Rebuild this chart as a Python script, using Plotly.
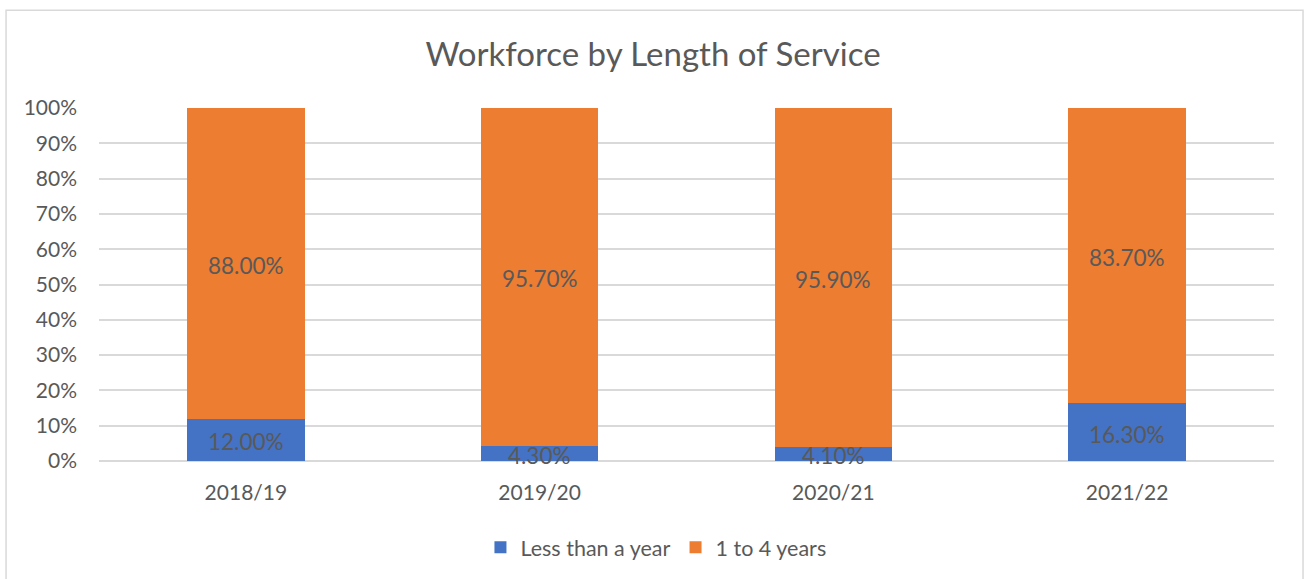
import plotly.graph_objects as go

# Workforce share by length of service, per financial year
years = ["2018/19", "2019/20", "2020/21", "2021/22"]
less_than_year = [12.00, 4.30, 4.10, 16.30]
one_to_four = [88.00, 95.70, 95.90, 83.70]
y_ticks = list(range(0, 101, 10))

BLUE = "#4472C4"
ORANGE = "#ED7D31"
TEXT = "#595959"
GRID = "#D9D9D9"
FONT = "Lato, Calibri, sans-serif"

fig = go.Figure()
fig.add_trace(go.Bar(name="Less than a year", x=years, y=less_than_year,
                     marker=dict(color=BLUE, line=dict(width=0)), hoverinfo="skip"))
fig.add_trace(go.Bar(name="1 to 4 years", x=years, y=one_to_four,
                     marker=dict(color=ORANGE, line=dict(width=0)), hoverinfo="skip"))

# value labels centred in each stacked segment
label_font = dict(size=22.5, color=TEXT, family=FONT)
annotations = []
for yr, a, b in zip(years, less_than_year, one_to_four):
    annotations.append(dict(x=yr, y=a / 2, text=f"{a:.2f}%", showarrow=False,
                            xref="x", yref="y", yshift=-2, font=label_font))
    annotations.append(dict(x=yr, y=a + b / 2, text=f"{b:.2f}%", showarrow=False,
                            xref="x", yref="y", yshift=-2, font=label_font))

fig.update_layout(
    barmode="stack",
    bargap=0.6,
    width=1306, height=579,
    margin=dict(l=99, r=32, t=108, b=117),
    paper_bgcolor="white", plot_bgcolor="white",
    font=dict(family=FONT, color=TEXT, size=21),
    title=dict(text="Workforce by Length of Service", x=0.5, xanchor="center",
               y=1 - 54 / 579, yanchor="middle",
               font=dict(size=33, color=TEXT, family=FONT)),
    legend=dict(orientation="h", x=0.474, xanchor="center", y=-0.241, yanchor="middle",
                font=dict(size=21.5, color=TEXT, family=FONT), traceorder="normal",
                itemwidth=30),
    annotations=annotations,
    shapes=[dict(type="rect", xref="paper", yref="paper",
                 x0=-0.0791, x1=1.0247, y0=-0.36, y1=1.2768,
                 line=dict(color=GRID, width=1.5), fillcolor="rgba(0,0,0,0)", layer="below")],
    showlegend=True,
)
fig.update_xaxes(showgrid=False, showline=False, ticks="", tickfont=dict(size=21, color=TEXT),
                 ticklabelstandoff=17)
fig.update_yaxes(range=[0, 100], tickvals=y_ticks, ticktext=[f"{v}%" for v in y_ticks],
                 showgrid=True, gridcolor=GRID, gridwidth=1.5, zeroline=True,
                 zerolinecolor=GRID, zerolinewidth=1.5, showline=False, ticks="",
                 tickfont=dict(size=21, color=TEXT), ticklabelstandoff=21)

fig.write_html("out.html")
